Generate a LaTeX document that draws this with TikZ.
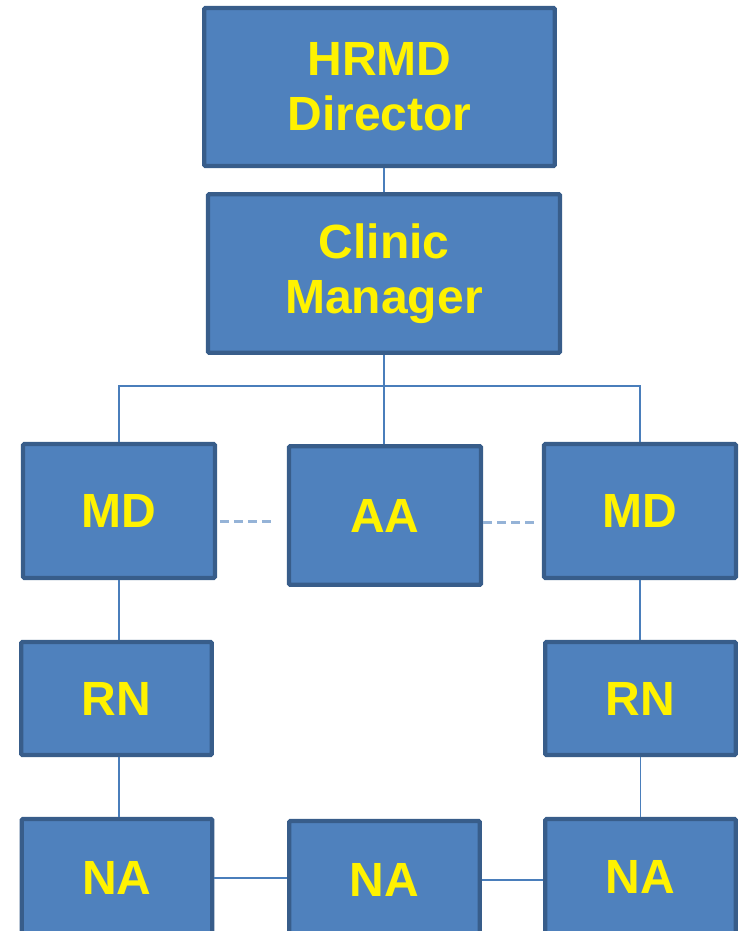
\documentclass[tikz,border=0pt]{standalone}
\usepackage{fontspec}
\setmainfont{Liberation Sans}
\usetikzlibrary{calc}
\definecolor{boxfill}{HTML}{4F81BD}
\definecolor{boxline}{HTML}{385D8A}
\definecolor{linkcol}{HTML}{4A7EBB}
\definecolor{dashcol}{HTML}{95B3D7}
\tikzset{
  unit/.style={draw=boxline, fill=boxfill, line width=3.2pt, rounded corners=1pt,
    text=yellow, font=\fontsize{36}{41.5}\selectfont\bfseries, align=center,
    inner sep=0pt},
  link/.style={draw=linkcol, line width=1.1pt},
  dashlink/.style={draw=dashcol, line width=2.2pt, dash pattern=on 7pt off 3.5pt}
}
\begin{document}
\begin{tikzpicture}[x=0.75pt, y=-0.75pt]
        \useasboundingbox (0,0) rectangle (745,931);
        \clip (0,0) rectangle (745,931);

        \node[unit, minimum width=263pt, minimum height=118.5pt] (hrmd) at (379.5, 87) {HRMD\\Director};
        \node[unit, minimum width=264pt, minimum height=119pt] (clinic) at (384, 273.5) {Clinic\\Manager};

        \node[unit, minimum width=144pt, minimum height=100.5pt] (mdl) at (119, 511) {MD};
        \node[unit, minimum width=144pt, minimum height=104pt] (aa) at (385, 515.5) {AA};
        \node[unit, minimum width=144pt, minimum height=100.5pt] (mdr) at (640, 511) {MD};

        \node[unit, minimum width=143pt, minimum height=84.75pt] (rnl) at (116.5, 698.5) {RN};
        \node[unit, minimum width=143pt, minimum height=84.75pt] (rnr) at (640.5, 698.5) {RN};

        \node[unit, minimum width=143pt, minimum height=88.5pt] (nal) at (117, 878) {NA};
        \node[unit, minimum width=143pt, minimum height=88.5pt] (nam) at (384.5, 880) {NA};
        \node[unit, minimum width=143pt, minimum height=87pt] (nar) at (640.5, 877) {NA};

        \coordinate (bus) at (384, 386);

        \draw[link] (hrmd.south -| clinic.north) -- (clinic.north);
        \draw[link] (clinic.south) -- (clinic.south |- aa.north);
        \draw[link] (mdl.north) |- (bus) -| (mdr.north);

        \draw[dashlink, shorten <=2pt, shorten >=9pt] ([yshift=-8pt]mdl.east) -- ([yshift=-8pt]mdl.east -| aa.west);
        \draw[dashlink, shorten >=4pt] ([yshift=-5.5pt]aa.east) -- ([yshift=-5.5pt]aa.east -| mdr.west);

        \draw[link] (mdl.south) -- (mdl.south |- rnl.north);
        \draw[link] (mdr.south) -- (mdr.south |- rnr.north);
        \draw[link] (rnl.south -| mdl.south) -- (nal.north -| mdl.south);
        \draw[link] (rnr.south) -- (rnr.south |- nar.north);

        \draw[link] (nal.east) -- (nal.east -| nam.west);
        \draw[link] (nam.east) -- (nam.east -| nar.west);

    \end{tikzpicture}
\end{document}
